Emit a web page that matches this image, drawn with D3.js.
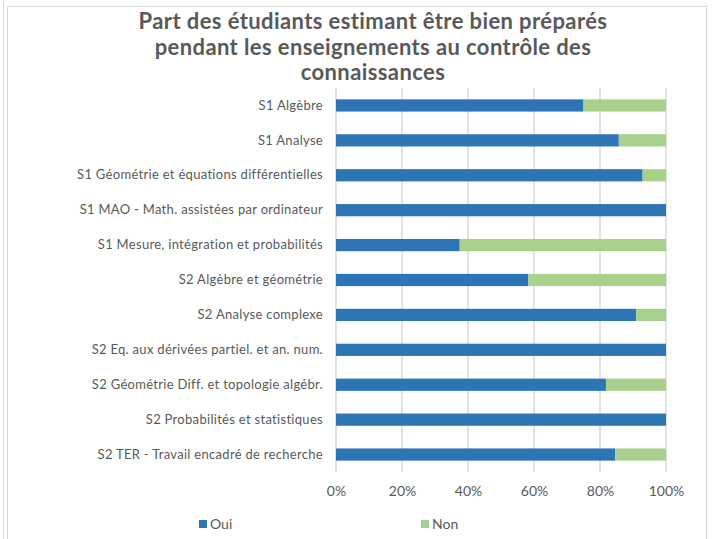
<!DOCTYPE html>
<html>
<head>
<meta charset="utf-8">
<script src="https://cdn.jsdelivr.net/npm/d3@7"></script>
<style>
  body { margin: 0; background: #fff; }
  text { font-family: Lato, "Open Sans", sans-serif; fill: #595959; }
</style>
</head>
<body>
<div id="chart"></div>
<script>
// data
var categories = [
	"S1 Algèbre",
	"S1 Analyse",
	"S1 Géométrie et équations différentielles",
	"S1 MAO - Math. assistées par ordinateur",
	"S1 Mesure, intégration et probabilités",
	"S2 Algèbre et géométrie",
	"S2 Analyse complexe",
	"S2 Eq. aux dérivées partiel. et an. num.",
	"S2 Géométrie Diff. et topologie algébr.",
	"S2 Probabilités et statistiques",
	"S2 TER - Travail encadré de recherche"
];
var oui = [75, 85.7, 92.9, 100, 37.5, 58.3, 90.9, 100, 81.8, 100, 84.6];
var non = [25, 14.3, 7.1, 0, 62.5, 41.7, 9.1, 0, 18.2, 0, 15.4];
var seriesNames = ["Oui", "Non"];
var xTicks = [0, 20, 40, 60, 80, 100];
var titleLines = [
	"Part des étudiants estimant être bien préparés",
	"pendant les enseignements au contrôle des",
	"connaissances"
];

var colors = ["#2E75B6", "#A9D18E"];

var width = 717, height = 539;
var plot = {left: 336, right: 666, top: 88, bottom: 472};

var svg = d3.select("#chart").append("svg")
	.attr("width", width)
	.attr("height", height);

// outer frame
svg.append("rect")
	.attr("x", 7.5).attr("y", 6.5)
	.attr("width", 699).attr("height", 540)
	.attr("fill", "none")
	.attr("stroke", "#d9d9d9");
svg.append("line")
	.attr("x1", 3.5).attr("x2", 3.5).attr("y1", 0).attr("y2", height)
	.attr("stroke", "#d9d9d9");

// title
svg.append("g").selectAll("text")
	.data(titleLines)
	.enter().append("text")
	.attr("x", 373)
	.attr("y", function (d, i) { return 29 + i * 25.5; })
	.attr("text-anchor", "middle")
	.style("font-size", "22px")
	.style("font-weight", "bold")
	.style("letter-spacing", "0.4px")
	.text(function (d) { return d; });

var x_scale = d3.scaleLinear().domain([0, 100]).range([plot.left, plot.right]);
var y_scale = d3.scaleBand().domain(categories).range([plot.top, plot.bottom]).paddingInner(0.65).paddingOuter(0.325);

// gridlines
svg.append("g").selectAll("line")
	.data(xTicks)
	.enter().append("line")
	.attr("x1", function (d) { return x_scale(d); })
	.attr("x2", function (d) { return x_scale(d); })
	.attr("y1", plot.top)
	.attr("y2", plot.bottom)
	.attr("stroke", "#d9d9d9")
	.attr("stroke-width", 1.5);

// stacked bars
var rows = categories.map(function (c, i) { return {cat: c, Oui: oui[i], Non: non[i]}; });
var stacked = d3.stack().keys(seriesNames)(rows);

svg.append("g").selectAll("g")
	.data(stacked)
	.enter().append("g")
	.attr("fill", function (d, i) { return colors[i]; })
	.selectAll("rect")
	.data(function (d) { return d; })
	.enter().append("rect")
	.attr("x", function (d) { return x_scale(d[0]); })
	.attr("width", function (d) { return x_scale(d[1]) - x_scale(d[0]); })
	.attr("y", function (d) { return y_scale(d.data.cat); })
	.attr("height", y_scale.bandwidth());

// category axis
var yAxis = svg.append("g")
	.attr("transform", "translate(" + plot.left + ",0)")
	.call(d3.axisLeft(y_scale).tickSize(0).tickPadding(13));
yAxis.select(".domain").remove();
yAxis.selectAll("text")
	.style("font-size", "13px")
	.style("letter-spacing", "0.3px")
	.style("fill", "#595959");

// value axis
var xAxis = svg.append("g")
	.attr("transform", "translate(0," + plot.bottom + ")")
	.call(d3.axisBottom(x_scale).tickValues(xTicks).tickSize(0).tickPadding(14)
		.tickFormat(function (d) { return d + "%"; }));
xAxis.select(".domain").remove();
xAxis.selectAll("text").style("font-size", "14px").style("fill", "#595959");

// legend
var legendX = [199, 421];
var legend = svg.append("g").selectAll("g")
	.data(seriesNames)
	.enter().append("g")
	.attr("transform", function (d, i) { return "translate(" + legendX[i] + ",520)"; });
legend.append("rect")
	.attr("width", 8).attr("height", 8)
	.attr("fill", function (d, i) { return colors[i]; });
legend.append("text")
	.attr("x", 11).attr("y", 4)
	.attr("dy", "0.35em")
	.style("font-size", "14px")
	.text(function (d) { return d; });
</script>
</body>
</html>
